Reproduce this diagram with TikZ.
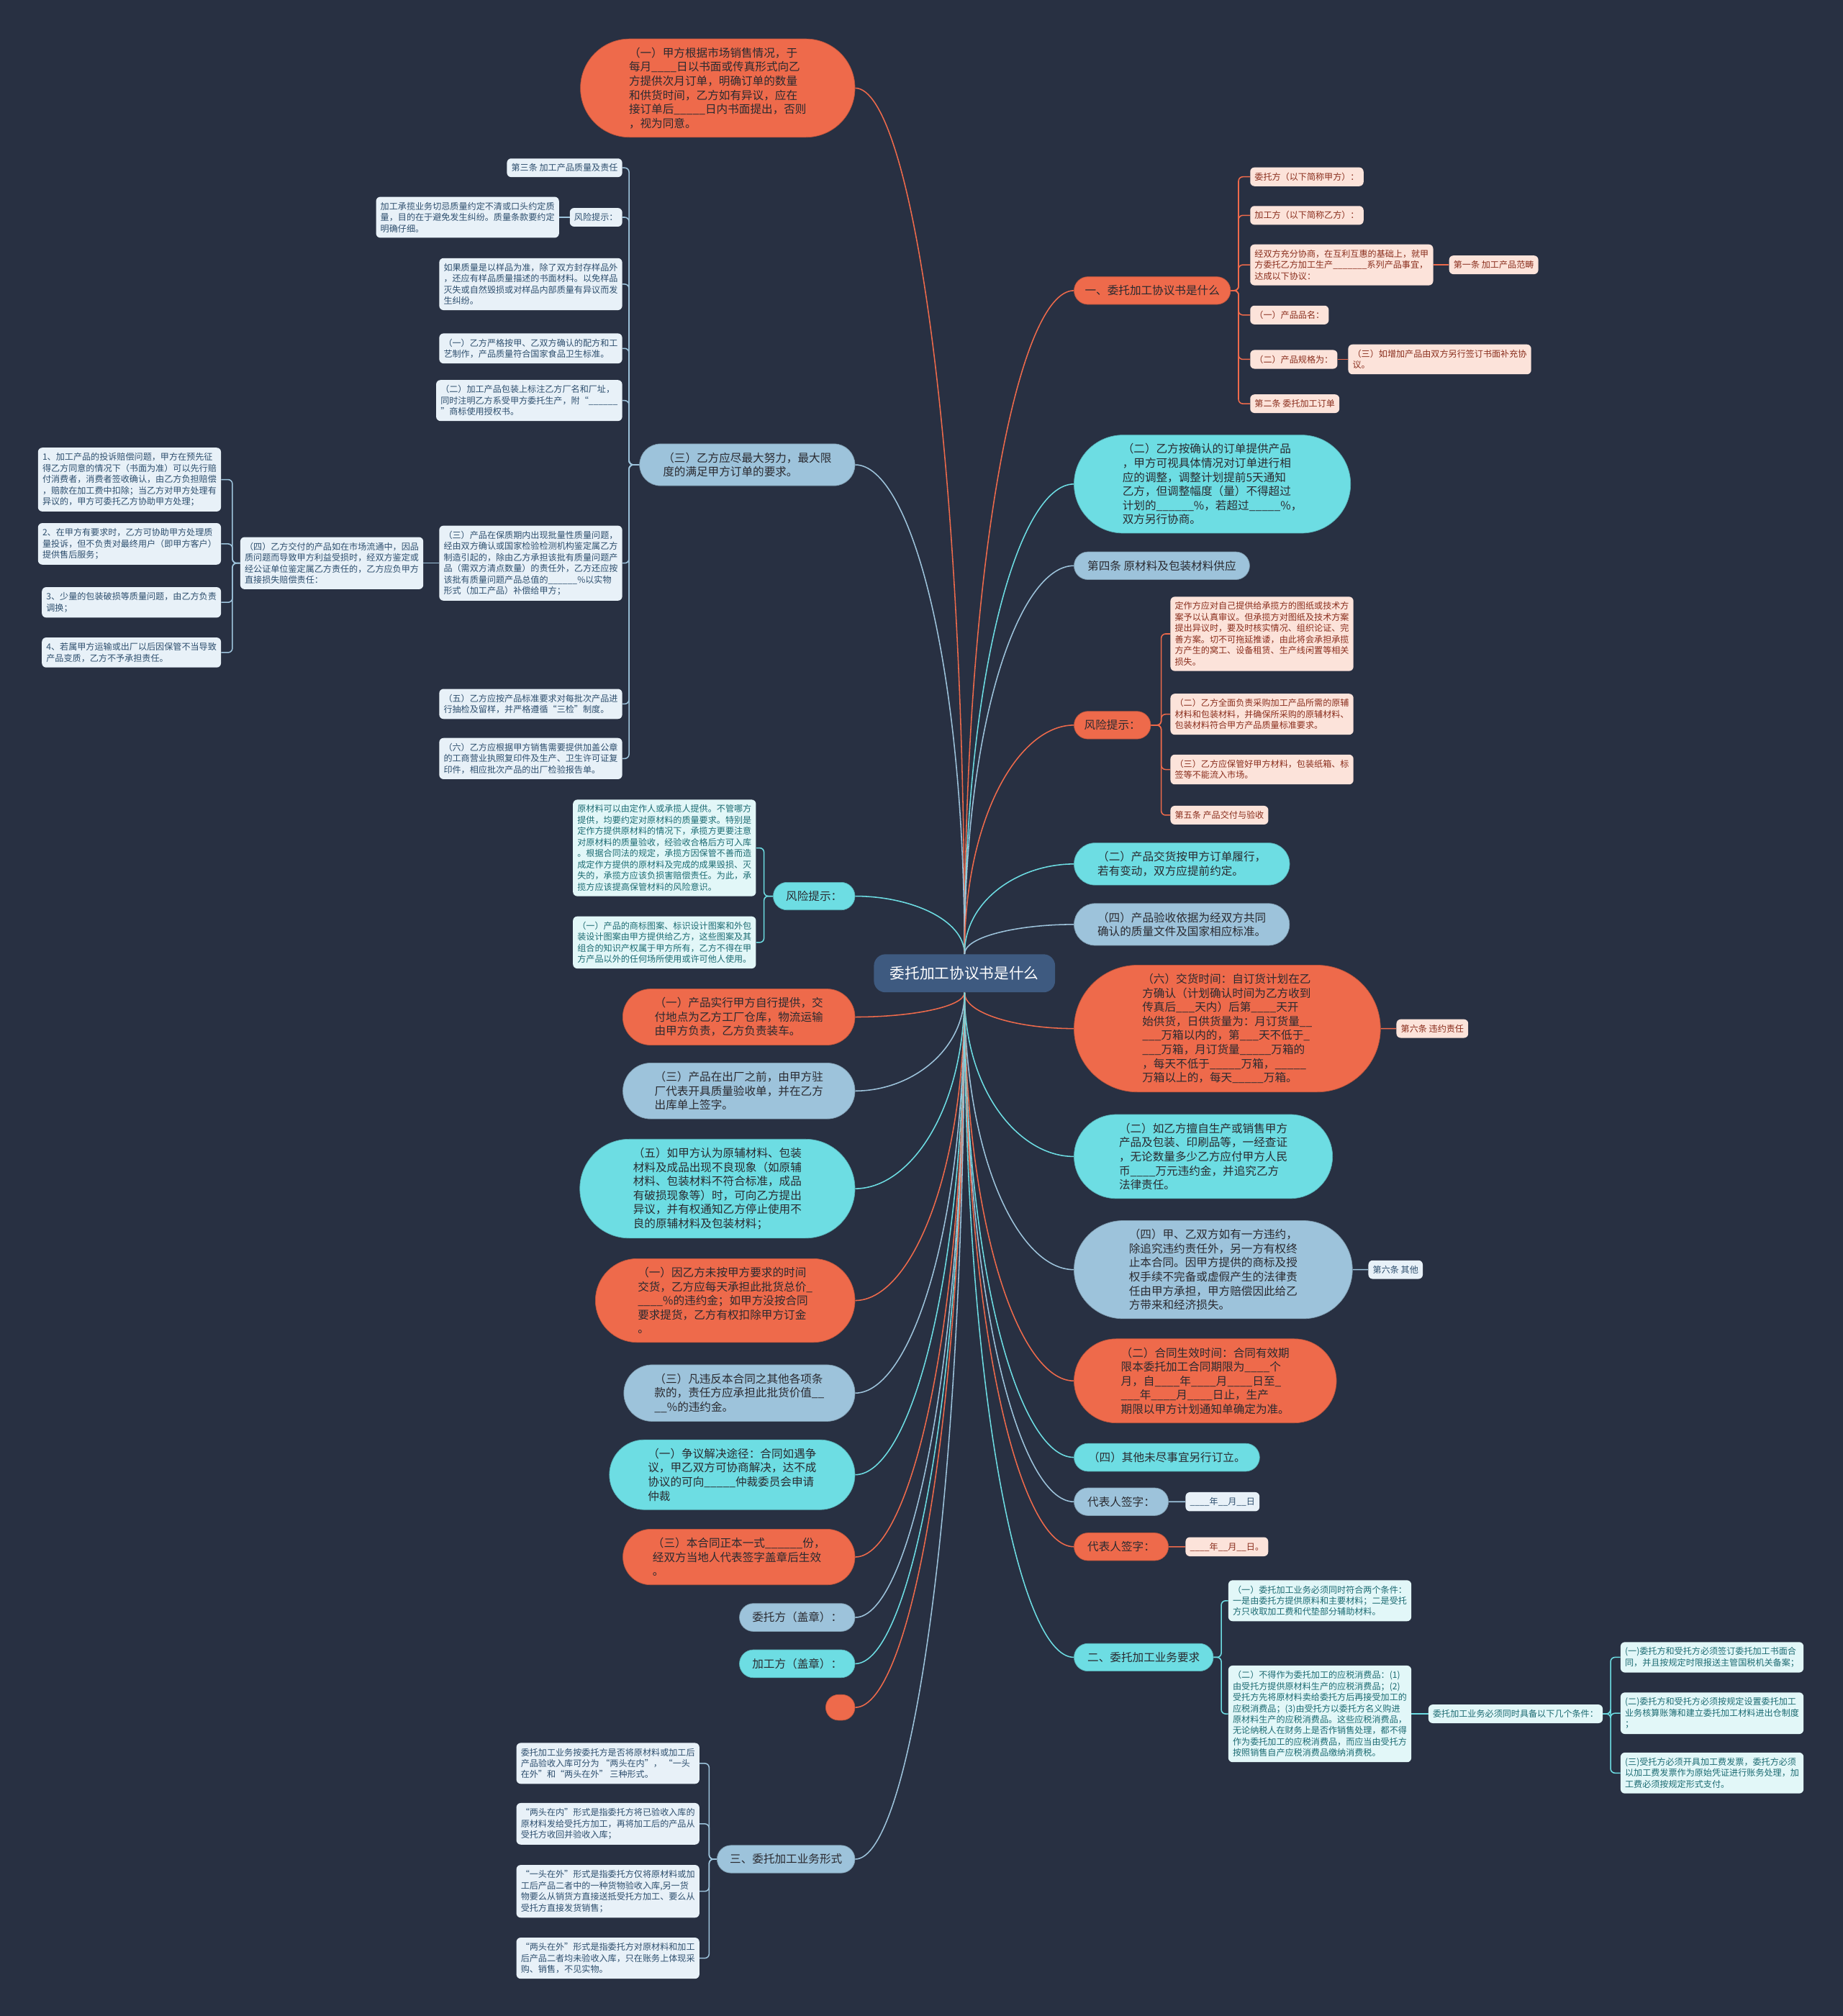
\documentclass[tikz,border=0pt]{standalone}
\usepackage{fontspec}
\setmainfont{Noto Sans CJK SC}
\usepackage{tikz}
\usetikzlibrary{positioning,calc,shapes.misc,backgrounds}
\definecolor{cBg}{HTML}{283042}
\definecolor{cRoot}{HTML}{3E5A80}
\definecolor{cOrg}{HTML}{EE6A4B}
\definecolor{cOrgL}{HTML}{FCE3DA}
\definecolor{cOrgT}{HTML}{8A2E1D}
\definecolor{cBlu}{HTML}{9DC3DB}
\definecolor{cBluL}{HTML}{E8F1F8}
\definecolor{cBluT}{HTML}{2E4F6E}
\definecolor{cCyn}{HTML}{6DDDE3}
\definecolor{cCynL}{HTML}{E2F7F8}
\definecolor{cCynT}{HTML}{1C6B72}
\definecolor{cInk}{HTML}{2A2A30}
\tikzset{
  pill/.style={rounded rectangle, fill=#1, draw=#1!80!black, line width=0.5pt, text=cInk,
               align=left, font=\fontsize{11.1}{13.9}\selectfont, inner xsep=12pt, inner ysep=8.5pt},
  leaf/.style={rounded corners=1.5mm, fill=#1L, text=#1T, align=left,
               font=\fontsize{8.6}{11}\selectfont, inner xsep=4.4pt, inner ysep=5.2pt},
  br/.style={draw=#1, line width=1.1pt},
  twig/.style={draw=#1, line width=1.1pt, rounded corners=1.5mm},
  branch/.style={to path={.. controls ($(\tikztostart)!0.6!(\tikztostart|-\tikztotarget)$)
               and ($(\tikztotarget)!0.5!(\tikztostart|-\tikztotarget)$) .. (\tikztotarget)}},
  node distance=5.5mm,
}
\begin{document}
\begin{tikzpicture}[x=0.4466mm, y=-0.4466mm]
  \useasboundingbox (0,0) rectangle (1433,1568);
  \node[fill=cRoot, text=white, rounded corners=4mm, font=\fontsize{14.7}{17}\selectfont,
        inner xsep=16pt, inner ysep=12pt] (root) at (750,757) {委托加工协议书是什么};

  % left side
  \node[pill=cOrg, anchor=east, inner xsep=26.8pt] (l1) at (665,68.5) {（一）甲方根据市场销售情况，于\\每月\_\_\_\_日以书面或传真形式向乙\\方提供次月订单，明确订单的数量\\和供货时间，乙方如有异议，应在\\接订单后\_\_\_\_\_日内书面提出，否则\\，视为同意。};
  \node[pill=cBlu, anchor=east, inner xsep=19.2pt] (l2) at (665,361.5) {（三）乙方应尽最大努力，最大限\\度的满足甲方订单的要求。};
  \node[leaf=cBlu, anchor=east] (a1) at (484,130.5) {第三条 加工产品质量及责任};
  \node[leaf=cBlu, anchor=east] (a2) at (484,169) {风险提示：};
  \node[leaf=cBlu, left=3.6mm of a2] (a2c) {加工承揽业务切忌质量约定不清或口头约定质\\量，目的在于避免发生纠纷。质量条款要约定\\明确仔细。};
  \node[leaf=cBlu, anchor=east] (a3) at (484,221) {如果质量是以样品为准，除了双方封存样品外\\，还应有样品质量描述的书面材料。以免样品\\灭失或自然毁损或对样品内部质量有异议而发\\生纠纷。};
  \node[leaf=cBlu, anchor=east] (a4) at (484,271) {（一）乙方严格按甲、乙双方确认的配方和工\\艺制作，产品质量符合国家食品卫生标准。};
  \node[leaf=cBlu, anchor=east] (a5) at (484,311.5) {（二）加工产品包装上标注乙方厂名和厂址，\\同时注明乙方系受甲方委托生产，附“\_\_\_\_\_\_\\”商标使用授权书。};
  \node[leaf=cBlu, anchor=east] (a6) at (484,438) {（三）产品在保质期内出现批量性质量问题，\\经由双方确认或国家检验检测机构鉴定属乙方\\制造引起的，除由乙方承担该批有质量问题产\\品（需双方清点数量）的责任外，乙方还应按\\该批有质量问题产品总值的\_\_\_\_\_\_\%以实物\\形式（加工产品）补偿给甲方；};
  \node[leaf=cBlu, left=5.4mm of a6] (a6c) {（四）乙方交付的产品如在市场流通中，因品\\质问题而导致甲方利益受损时，经双方鉴定或\\经公证单位鉴定属乙方责任的，乙方应负甲方\\直接损失赔偿责任：};
  \node[leaf=cBlu, anchor=east] (d1) at (172,373) {1、加工产品的投诉赔偿问题，甲方在预先征\\得乙方同意的情况下（书面为准）可以先行赔\\付消费者，消费者签收确认，由乙方负担赔偿\\，赔款在加工费中扣除；当乙方对甲方处理有\\异议的，甲方可委托乙方协助甲方处理；};
  \node[leaf=cBlu, anchor=east] (d2) at (172,423) {2、在甲方有要求时，乙方可协助甲方处理质\\量投诉，但不负责对最终用户（即甲方客户）\\提供售后服务；};
  \node[leaf=cBlu, anchor=east] (d3) at (172,468.5) {3、少量的包装破损等质量问题，由乙方负责\\调换；};
  \node[leaf=cBlu, anchor=east] (d4) at (172,507.5) {4、若属甲方运输或出厂以后因保管不当导致\\产品变质，乙方不予承担责任。};
  \node[leaf=cBlu, anchor=east] (a7) at (484,547.5) {（五）乙方应按产品标准要求对每批次产品进\\行抽检及留样，并严格遵循“三检”制度。};
  \node[leaf=cBlu, anchor=east] (a8) at (484,590) {（六）乙方应根据甲方销售需要提供加盖公章\\的工商营业执照复印件及生产、卫生许可证复\\印件，相应批次产品的出厂检验报告单。};

  \node[pill=cCyn, anchor=east, inner xsep=11.6pt] (l3) at (665,697) {风险提示：};
  \node[leaf=cCyn, anchor=east] (b1) at (588,659.5) {原材料可以由定作人或承揽人提供。不管哪方\\提供，均要约定对原材料的质量要求。特别是\\定作方提供原材料的情况下，承揽方更要注意\\对原材料的质量验收，经验收合格后方可入库\\。根据合同法的规定，承揽方因保管不善而造\\成定作方提供的原材料及完成的成果毁损、灭\\失的，承揽方应该负损害赔偿责任。为此，承\\揽方应该提高保管材料的风险意识。};
  \node[leaf=cCyn, anchor=east] (b2) at (588,733) {（一）产品的商标图案、标识设计图案和外包\\装设计图案由甲方提供给乙方，这些图案及其\\组合的知识产权属于甲方所有，乙方不得在甲\\方产品以外的任何场所使用或许可他人使用。};

  \node[pill=cOrg, anchor=east, inner xsep=23.7pt] (l4) at (665,791) {（一）产品实行甲方自行提供，交\\付地点为乙方工厂仓库，物流运输\\由甲方负责，乙方负责装车。};
  \node[pill=cBlu, anchor=east, inner xsep=23.7pt] (l5) at (665,848.5) {（三）产品在出厂之前，由甲方驻\\厂代表开具质量验收单，并在乙方\\出库单上签字。};
  \node[pill=cCyn, anchor=east, inner xsep=31.3pt] (l6) at (665,924.5) {（五）如甲方认为原辅材料、包装\\材料及成品出现不良现象（如原辅\\材料、包装材料不符合标准，成品\\有破损现象等）时，可向乙方提出\\异议，并有权通知乙方停止使用不\\良的原辅材料及包装材料；};
  \node[pill=cOrg, anchor=east, inner xsep=25.6pt] (l7) at (665,1011.5) {（一）因乙方未按甲方要求的时间\\交货，乙方应每天承担此批货总价\_\\\_\_\_\_\%的违约金；如甲方没按合同\\要求提货，乙方有权扣除甲方订金\\。};
  \node[pill=cBlu, anchor=east, inner xsep=22.4pt] (l8) at (665,1083.5) {（三）凡违反本合同之其他各项条\\款的，责任方应承担此批货价值\_\_\\\_\_\%的违约金。};
  \node[pill=cCyn, anchor=east, inner xsep=26.2pt] (l9) at (665,1147) {（一）争议解决途径：合同如遇争\\议，甲乙双方可协商解决，达不成\\协议的可向\_\_\_\_\_仲裁委员会申请\\仲裁};
  \node[pill=cOrg, anchor=east, inner xsep=21.8pt] (l10) at (665,1211) {（三）本合同正本一式\_\_\_\_\_\_份，\\经双方当地人代表签字盖章后生效\\。};
  \node[pill=cBlu, anchor=east, inner xsep=11.6pt] (l11) at (665,1258) {委托方（盖章）：};
  \node[pill=cCyn, anchor=east, inner xsep=11.6pt] (l12) at (665,1294) {加工方（盖章）：};
  \node[pill=cOrg, anchor=east, inner xsep=1.5pt, minimum width=11.2mm, minimum height=8.9mm] (l13) at (665,1328) {};
  \node[pill=cBlu, anchor=east, inner xsep=11.6pt] (l14) at (665,1446) {三、委托加工业务形式};
  \node[leaf=cBlu, anchor=east] (c1) at (544,1371.5) {委托加工业务按委托方是否将原材料或加工后\\产品验收入库可分为 “两头在内”， “一头\\在外”和“两头在外” 三种形式。};
  \node[leaf=cBlu, anchor=east] (c2) at (544,1418.5) {“两头在内”形式是指委托方将已验收入库的\\原材料发给受托方加工，再将加工后的产品从\\受托方收回并验收入库；};
  \node[leaf=cBlu, anchor=east] (c3) at (544,1471) {“一头在外”形式是指委托方仅将原材料或加\\工后产品二者中的一种货物验收入库,另一货\\物要么从销货方直接送抵受托方加工、要么从\\受托方直接发货销售；};
  \node[leaf=cBlu, anchor=east] (c4) at (544,1523) {“两头在外”形式是指委托方对原材料和加工\\后产品二者均未验收入库，只在账务上体现采\\购、销售，不见实物。};

  % right side
  \node[pill=cOrg, anchor=west, inner xsep=9.7pt] (r1) at (835,226) {一、委托加工协议书是什么};
  \node[leaf=cOrg, anchor=west] (e1) at (972,137.5) {委托方（以下简称甲方）：};
  \node[leaf=cOrg, anchor=west] (e2) at (972,167.5) {加工方（以下简称乙方）：};
  \node[leaf=cOrg, anchor=west] (e3) at (972,206) {经双方充分协商，在互利互惠的基础上，就甲\\方委托乙方加工生产\_\_\_\_\_\_\_系列产品事宜，\\达成以下协议：};
  \node[leaf=cOrg, right=5.4mm of e3] (e3c) {第一条 加工产品范畴};
  \node[leaf=cOrg, anchor=west] (e4) at (972,245) {（一）产品品名：};
  \node[leaf=cOrg, anchor=west] (e5) at (972,279.5) {（二）产品规格为：};
  \node[leaf=cOrg, right=3.6mm of e5] (e5c) {（三）如增加产品由双方另行签订书面补充协\\议。};
  \node[leaf=cOrg, anchor=west] (e6) at (972,314) {第二条 委托加工订单};
  \node[pill=cCyn, anchor=west, inner xsep=26.8pt] (r2) at (835,376.5) {（二）乙方按确认的订单提供产品\\，甲方可视具体情况对订单进行相\\应的调整，调整计划提前5天通知\\乙方，但调整幅度（量）不得超过\\计划的\_\_\_\_\_\_\%，若超过\_\_\_\_\_\%，\\双方另行协商。};
  \node[pill=cBlu, anchor=west, inner xsep=12.3pt] (r3) at (835,440) {第四条 原材料及包装材料供应};
  \node[pill=cOrg, anchor=west, inner xsep=9.1pt] (r4) at (835,564) {风险提示：};
  \node[leaf=cOrg, anchor=west] (f1) at (910,493) {定作方应对自己提供给承揽方的图纸或技术方\\案予以认真审议。但承揽方对图纸及技术方案\\提出异议时，要及时核实情况、组织论证、完\\善方案。切不可拖延推诿，由此将会承担承揽\\方产生的窝工、设备租赁、生产线闲置等相关\\损失。};
  \node[leaf=cOrg, anchor=west] (f2) at (910,555.5) {（二）乙方全面负责采购加工产品所需的原辅\\材料和包装材料，并确保所采购的原辅材料、\\包装材料符合甲方产品质量标准要求。};
  \node[leaf=cOrg, anchor=west] (f3) at (910,598.5) {（三）乙方应保管好甲方材料，包装纸箱、标\\签等不能流入市场。};
  \node[leaf=cOrg, anchor=west] (f4) at (910,634) {第五条 产品交付与验收};
  \node[pill=cCyn, anchor=west, inner xsep=19.2pt] (r5) at (835,672) {（二）产品交货按甲方订单履行，\\若有变动，双方应提前约定。};
  \node[pill=cBlu, anchor=west, inner xsep=19.2pt] (r6) at (835,719) {（四）产品验收依据为经双方共同\\确认的质量文件及国家相应标准。};
  \node[pill=cOrg, anchor=west, inner xsep=36.3pt] (r7) at (835,800) {（六）交货时间：自订货计划在乙\\方确认（计划确认时间为乙方收到\\传真后\_\_\_天内）后第\_\_\_\_天开\\始供货，日供货量为：月订货量\_\_\\\_\_\_万箱以内的，第\_\_\_天不低于\_\\\_\_\_万箱，月订货量\_\_\_\_\_万箱的\\，每天不低于\_\_\_\_\_万箱，\_\_\_\_\_\\万箱以上的，每天\_\_\_\_\_万箱。};
  \node[leaf=cOrg, right=5.4mm of r7] (r7c) {第六条 违约责任};
  \node[pill=cCyn, anchor=west, inner xsep=28.1pt] (r8) at (835,899.5) {（二）如乙方擅自生产或销售甲方\\产品及包装、印刷品等，一经查证\\，无论数量多少乙方应付甲方人民\\币\_\_\_\_万元违约金，并追究乙方\\法律责任。};
  \node[pill=cBlu, anchor=west, inner xsep=33.2pt] (r9) at (835,987.5) {（四）甲、乙双方如有一方违约，\\除追究违约责任外，另一方有权终\\止本合同。因甲方提供的商标及授\\权手续不完备或虚假产生的法律责\\任由甲方承担，甲方赔偿因此给乙\\方带来和经济损失。};
  \node[leaf=cBlu, right=5.4mm of r9] (r9c) {第六条 其他};
  \node[pill=cOrg, anchor=west, inner xsep=30pt] (r10) at (835,1074) {（二）合同生效时间：合同有效期\\限本委托加工合同期限为\_\_\_\_个\\月，自\_\_\_\_年\_\_\_\_月\_\_\_\_日至\_\\\_\_\_年\_\_\_\_月\_\_\_\_日止，生产\\期限以甲方计划通知单确定为准。};
  \node[pill=cCyn, anchor=west, inner xsep=12.9pt] (r11) at (835,1133.5) {（四）其他未尽事宜另行订立。};
  \node[pill=cBlu, anchor=west, inner xsep=12.3pt] (r12) at (835,1168) {代表人签字：};
  \node[leaf=cBlu, right=5.8mm of r12] (r12c) {\_\_\_\_年\_\_月\_\_日};
  \node[pill=cOrg, anchor=west, inner xsep=12.3pt] (r13) at (835,1203) {代表人签字：};
  \node[leaf=cOrg, right=5.8mm of r13] (r13c) {\_\_\_\_年\_\_月\_\_日。};
  \node[pill=cCyn, anchor=west, inner xsep=12.3pt] (r14) at (835,1289) {二、委托加工业务要求};
  \node[leaf=cCyn, anchor=west] (g1) at (955,1245) {（一）委托加工业务必须同时符合两个条件：\\一是由委托方提供原料和主要材料；二是受托\\方只收取加工费和代垫部分辅助材料。};
  \node[leaf=cCyn, anchor=west] (g2) at (955,1333) {（二）不得作为委托加工的应税消费品：(1)\\由受托方提供原材料生产的应税消费品；(2)\\受托方先将原材料卖给委托方后再接受加工的\\应税消费品；(3)由受托方以委托方名义购进\\原材料生产的应税消费品。这些应税消费品，\\无论纳税人在财务上是否作销售处理，都不得\\作为委托加工的应税消费品，而应当由受托方\\按照销售自产应税消费品缴纳消费税。};
  \node[leaf=cCyn, right=5.8mm of g2] (g2c) {委托加工业务必须同时具备以下几个条件：};
  \node[leaf=cCyn, anchor=west] (h1) at (1260,1289) {(一)委托方和受托方必须签订委托加工书面合\\同，并且按规定时限报送主管国税机关备案；};
  \node[leaf=cCyn, anchor=west] (h2) at (1260,1332.5) {(二)委托方和受托方必须按规定设置委托加工\\业务核算账簿和建立委托加工材料进出仓制度\\；};
  \node[leaf=cCyn, anchor=west] (h3) at (1260,1379) {(三)受托方必须开具加工费发票，委托方必须\\以加工费发票作为原始凭证进行账务处理，加\\工费必须按规定形式支付。};

  \begin{scope}[on background layer]
    \fill[cBg] (0,0) rectangle (1433,1568);
    % root branches
    \foreach \n/\col in {l1/cOrg, l2/cBlu, l3/cCyn}
      \draw[br=\col] (root.north) to[branch] (\n.east);
    \foreach \n/\col in {l4/cOrg, l5/cBlu, l6/cCyn, l7/cOrg, l8/cBlu, l9/cCyn, l10/cOrg, l11/cBlu, l12/cCyn, l13/cOrg, l14/cBlu}
      \draw[br=\col] (root.south) to[branch] (\n.east);
    \foreach \n/\col in {r1/cOrg, r2/cCyn, r3/cBlu, r4/cOrg, r5/cCyn, r6/cBlu}
      \draw[br=\col] (root.north) to[branch] (\n.west);
    \foreach \n/\col in {r7/cOrg, r8/cCyn, r9/cBlu, r10/cOrg, r11/cCyn, r12/cBlu, r13/cOrg, r14/cCyn}
      \draw[br=\col] (root.south) to[branch] (\n.west);
    % sub branches
    \foreach \n in {a1,a2,a3,a4,a5,a6,a7,a8}
      \draw[twig=cBlu] (l2.west) -- ++(-8,0) |- (\n.east);
    \draw[br=cBlu] (a2) -- (a2c);
    \draw[br=cBlu] (a6) -- (a6c);
    \foreach \n in {d1,d2,d3,d4}
      \draw[twig=cBlu] (a6c.west) -- ++(-6,0) |- (\n.east);
    \foreach \n in {b1,b2}
      \draw[twig=cCyn] (l3.west) -- ++(-7,0) |- (\n.east);
    \foreach \n in {c1,c2,c3,c4}
      \draw[twig=cBlu] (l14.west) -- ++(-6,0) |- (\n.east);
    \foreach \n in {e1,e2,e3,e4,e5,e6}
      \draw[twig=cOrg] (r1.east) -- ++(6,0) |- (\n.west);
    \draw[br=cOrg] (e3) -- (e3c);
    \draw[br=cOrg] (e5) -- (e5c);
    \foreach \n in {f1,f2,f3,f4}
      \draw[twig=cOrg] (r4.east) -- ++(8,0) |- (\n.west);
    \draw[br=cOrg] (r7) -- (r7c);
    \draw[br=cBlu] (r9) -- (r9c);
    \draw[br=cBlu] (r12) -- (r12c);
    \draw[br=cOrg] (r13) -- (r13c);
    \foreach \n in {g1,g2}
      \draw[twig=cCyn] (r14.east) -- ++(6,0) |- (\n.west);
    \draw[br=cCyn] (g2) -- (g2c);
    \foreach \n in {h1,h2,h3}
      \draw[twig=cCyn] (g2c.east) -- ++(6,0) |- (\n.west);
  \end{scope}
\end{tikzpicture}
\end{document}
